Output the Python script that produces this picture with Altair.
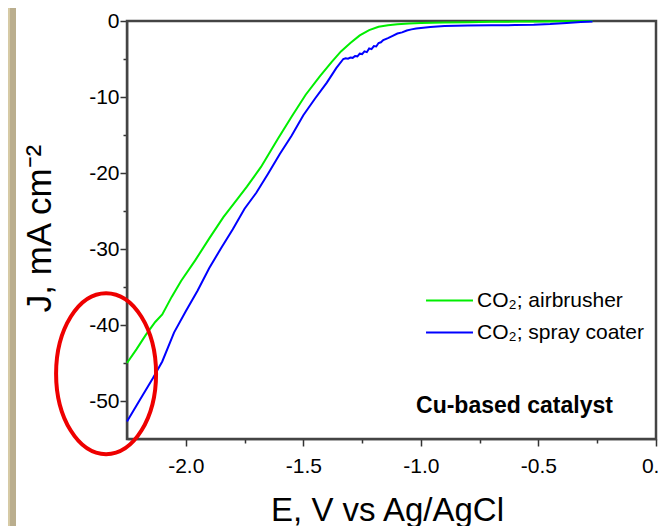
import altair as alt
import pandas as pd

# ---- data ----
series_names = ["CO₂; airbrusher", "CO₂; spray coater"]
series_colors = ["#00ee00", "#0000ff"]

air_x = [-2.25, -2.21, -2.17, -2.13, -2.10, -2.06, -2.02, -1.96, -1.90, -1.84,
         -1.78, -1.74, -1.68, -1.61, -1.55, -1.49, -1.43, -1.38, -1.34, -1.30,
         -1.26, -1.22, -1.18, -1.14, -1.10, -1.05, -1.00, -0.90, -0.80, -0.70,
         -0.60, -0.50, -0.40, -0.27]
air_y = [-45.0, -43.2, -41.3, -39.6, -38.6, -36.3, -34.2, -31.5, -28.6, -25.8,
         -23.4, -21.8, -19.2, -15.6, -12.6, -9.7, -7.3, -5.4, -4.0, -2.9,
         -1.9, -1.2, -0.75, -0.55, -0.42, -0.33, -0.27, -0.20, -0.15, -0.10,
         -0.08, -0.06, -0.03, 0.0]

spray_x = [-2.25, -2.20, -2.14, -2.10, -2.05, -2.00, -1.95, -1.90, -1.85, -1.80,
           -1.75, -1.70, -1.65, -1.60, -1.55, -1.50, -1.45, -1.40, -1.36, -1.33,
           -1.32, -1.31, -1.30, -1.29, -1.28, -1.27, -1.26, -1.25, -1.24, -1.23,
           -1.22, -1.21, -1.20, -1.19, -1.18, -1.17, -1.16, -1.14, -1.12, -1.10,
           -1.08, -1.06, -1.04, -1.02, -1.00, -0.96, -0.90, -0.80, -0.70, -0.60,
           -0.52, -0.45, -0.38, -0.32, -0.27]
spray_y = [-52.7, -50.1, -47.0, -44.8, -41.0, -38.2, -35.5, -32.5, -29.9, -27.4,
           -24.7, -22.6, -20.1, -17.5, -15.1, -12.4, -10.2, -8.1, -6.2, -5.0,
           -4.9, -4.95, -4.8, -4.85, -4.6, -4.65, -4.3, -4.35, -4.0, -4.1,
           -3.6, -3.7, -3.3, -3.35, -2.9, -2.8, -2.5, -2.25, -1.95, -1.65,
           -1.5, -1.25, -1.1, -1.0, -0.92, -0.78, -0.65, -0.60, -0.56, -0.54,
           -0.50, -0.40, -0.25, -0.12, -0.05]

x_ticks = [-2.0, -1.75, -1.5, -1.25, -1.0, -0.75, -0.5, -0.25, 0.0]
y_ticks = [-50, -45, -40, -35, -30, -25, -20, -15, -10, -5, 0]
x_range = [-2.25, 0.0]
y_range = [-55, 0]

ellipse_x = [-2.339]
ellipse_y = [-46.4]
note_text = ["Cu-based catalyst"]
note_x = [-0.602]
note_y = [-51.6]

FONT = "Liberation Sans, Arial, sans-serif"

df = pd.DataFrame({
    "E": air_x + spray_x,
    "J": air_y + spray_y,
    "series": [series_names[0]] * len(air_x) + [series_names[1]] * len(spray_x),
})

xscale = alt.Scale(domain=x_range, nice=False, zero=False)
yscale = alt.Scale(domain=y_range, nice=False, zero=False)

x_major = "abs(datum.value*2 - round(datum.value*2)) < 0.001"
y_major = "abs(datum.value % 10) < 0.001"

xaxis = alt.Axis(
    values=x_ticks, grid=False, title="E, V vs Ag/AgCl",
    labelExpr=f"{x_major} ? (datum.value < 0 ? '-' + format(-datum.value, '.1f') : '0.0') : ''",
    tickSize={"condition": {"test": x_major, "value": 7}, "value": 4},
    tickWidth=1.5, tickColor="#333", domainColor="#333", domainWidth=1.5,
    labelFont=FONT, labelFontSize=21, labelColor="#000",
    labelBaseline="alphabetic", labelPadding=26, labelFlush=False, labelOverlap=False,
    titleFont=FONT, titleFontSize=33, titleFontWeight="normal", titleColor="#000",
    titleX=260, titleY=81, titleBaseline="alphabetic", titleAlign="center",
)
yaxis = alt.Axis(
    values=y_ticks, grid=False, title="J, mA cm⁻²",
    labelExpr=f"{y_major} ? (datum.value < 0 ? '-' + format(-datum.value, 'd') : '0') : ''",
    tickSize={"condition": {"test": y_major, "value": 7}, "value": 4},
    tickWidth=1.5, tickColor="#333", domainColor="#333", domainWidth=1.5,
    labelFont=FONT, labelFontSize=21, labelColor="#000", labelPadding=1,
    labelFlush=False, labelOverlap=False,
    titleFont=FONT, titleFontSize=35, titleFontWeight="normal", titleColor="#000",
    titleX=-77, titleY=207, titleBaseline="alphabetic", titleAlign="center", titleAngle=270,
)

# box frame drawn as an unfilled rectangle spanning the full scale ranges
box_df = pd.DataFrame({"x0": [x_range[0]], "x1": [x_range[1]],
                       "y0": [y_range[0]], "y1": [y_range[1]]})
box = alt.Chart(box_df).mark_rect(
    fillOpacity=0, stroke="#444444", strokeWidth=2.5, strokeOpacity=1,
).encode(
    x=alt.X("x0:Q", scale=xscale, axis=xaxis), x2="x1:Q",
    y=alt.Y("y0:Q", scale=yscale, axis=yaxis), y2="y1:Q",
)

lines = alt.Chart(df).mark_line(strokeWidth=2).encode(
    x=alt.X("E:Q", scale=xscale),
    y=alt.Y("J:Q", scale=yscale),
    color=alt.Color(
        "series:N",
        scale=alt.Scale(domain=series_names, range=series_colors),
        legend=alt.Legend(
            title=None, orient="none", legendX=312, legendY=269, padding=0,
            symbolType="M-3,0H3", symbolSize=245, symbolStrokeWidth=2,
            labelFont=FONT, labelFontSize=21, labelColor="#000", labelLimit=0,
            labelOffset=17, rowPadding=10,
        ),
    ),
    order=alt.Order("E:Q"),
)

ell_df = pd.DataFrame({"E": ellipse_x, "J": ellipse_y})
ellipse = alt.Chart(ell_df).mark_point(
    shape="M -0.621 0 A 0.621 1 0 1 0 0.621 0 A 0.621 1 0 1 0 -0.621 0 Z",
    size=25921, filled=False, stroke="#ee0000", strokeWidth=4, opacity=1,
).encode(x=alt.X("E:Q", scale=xscale), y=alt.Y("J:Q", scale=yscale))

note_df = pd.DataFrame({"E": note_x, "J": note_y, "t": note_text})
note = alt.Chart(note_df).mark_text(
    font=FONT, fontSize=23, fontWeight="bold", color="#000",
    align="center", baseline="alphabetic",
).encode(x=alt.X("E:Q", scale=xscale), y=alt.Y("J:Q", scale=yscale), text="t:N")

strip_df = pd.DataFrame({"k": [0]})
strip1 = alt.Chart(strip_df).mark_rect(color="#d6caa5").encode(
    x=alt.value(-119), x2=alt.value(-117), y=alt.value(-13), y2=alt.value(510))
strip2 = alt.Chart(strip_df).mark_rect(color="#baae8e").encode(
    x=alt.value(-117), x2=alt.value(-111), y=alt.value(-13), y2=alt.value(510))

chart = alt.layer(strip1, strip2, box, lines, ellipse, note).properties(
    width=529, height=418,
    background="#ffffff",
    autosize=alt.AutoSizeParams(type="none"),
    padding={"left": 119, "top": 13, "right": 2, "bottom": 87},
).configure_view(
    stroke="#444444", strokeWidth=2,
)

chart.save("out.html", embed_options={"renderer": "svg", "actions": False})
